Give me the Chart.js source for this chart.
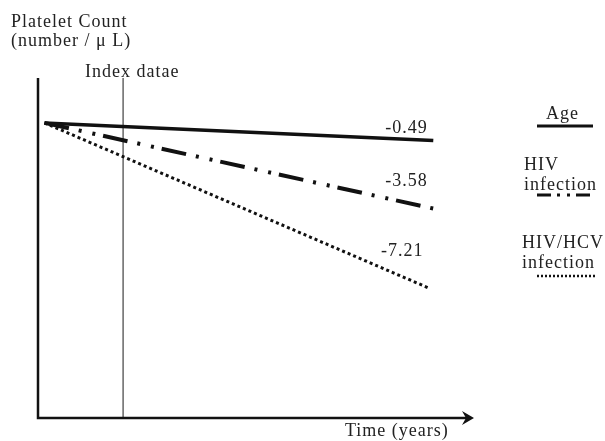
<!DOCTYPE html>
<html>
<head>
<meta charset="utf-8">
<script src="https://cdn.jsdelivr.net/npm/chart.js@4"></script>
<style>
  html, body { margin: 0; padding: 0; background: #fff; }
  #wrap { width: 605px; height: 441px; position: relative; }
</style>
</head>
<body>
<div id="wrap"><canvas id="lineChart" width="605" height="441"></canvas></div>
<script>
// data (arbitrary units, conceptual chart)
var seriesNames = ['Age', 'HIV infection', 'HIV/HCV infection'];
var slopeLabels = ['-0.49', '-3.58', '-7.21'];
var timeStart = 0.15;
var timeEnd = [9.15, 9.15, 9.05];
var countStart = 86.8;
var countEnd = [81.6, 61.6, 38.2];
var indexTime = 1.97;

var font = '"Liberation Serif", "DejaVu Serif", serif';

var datasets = seriesNames.map(function (name, i) {
    return {
        label: name,
        data: [{x: timeStart, y: countStart}, {x: timeEnd[i], y: countEnd[i]}],
        borderColor: '#111',
        pointRadius: 0,
        fill: false
    };
});
datasets[0].borderWidth = 3.5;
datasets[1].borderWidth = 4;
datasets[1].borderDash = [25, 10, 3, 11, 3, 8];
datasets[2].borderWidth = 3;
datasets[2].borderDash = [3, 3];

// index date line
datasets.push({
    label: 'Index datae',
    data: [{x: indexTime, y: 0}, {x: indexTime, y: 100}],
    borderColor: '#666',
    borderWidth: 1.5,
    pointRadius: 0
});

var extras = {
    id: 'extras',
    afterDatasetsDraw: function (chart) {
        var ctx = chart.ctx;
        var xs = chart.scales.x, ys = chart.scales.y;
        var a = chart.chartArea;
        ctx.save();
        // axes
        ctx.strokeStyle = '#111';
        ctx.lineWidth = 2.5;
        ctx.beginPath();
        ctx.moveTo(a.left, a.top);
        ctx.lineTo(a.left, a.bottom);
        ctx.lineTo(a.right, a.bottom);
        ctx.stroke();
        ctx.fillStyle = '#111';
        ctx.beginPath();
        ctx.moveTo(a.right + 4, a.bottom);
        ctx.lineTo(a.right - 8, a.bottom - 7);
        ctx.lineTo(a.right - 4, a.bottom);
        ctx.lineTo(a.right - 8, a.bottom + 7);
        ctx.closePath();
        ctx.fill();

        ctx.fillStyle = '#222';
        ctx.font = '18px ' + font;
        ctx.letterSpacing = '1px';
        ctx.textBaseline = 'alphabetic';
        ctx.textAlign = 'left';
        ctx.fillText('Platelet Count', 11, 27);
        ctx.fillText('(number / \u03BC L)', 11, 46);
        ctx.fillText('Index datae', 85, 77);
        ctx.fillText('Time (years)', 345, 436);

        // slope labels near line ends
        var labelY = [countEnd[0] + 2.2, countEnd[1] + 6.5, countEnd[2] + 9.5];
        slopeLabels.forEach(function (t, i) {
            ctx.textAlign = 'left';
            ctx.fillText(t, xs.getPixelForValue(timeEnd[i]) - 48, ys.getPixelForValue(labelY[i]));
        });

        // legend
        ctx.textAlign = 'left';
        ctx.fillText('Age', 546, 119);
        ctx.fillText('HIV', 524, 170);
        ctx.fillText('infection', 524, 190);
        ctx.fillText('HIV/HCV', 522, 248);
        ctx.fillText('infection', 522, 268);
        ctx.strokeStyle = '#111';
        ctx.lineWidth = 3;
        ctx.beginPath(); ctx.moveTo(537, 126); ctx.lineTo(593, 126); ctx.stroke();
        ctx.setLineDash([14, 6, 3, 7, 3, 6]);
        ctx.beginPath(); ctx.moveTo(537, 195); ctx.lineTo(595, 195); ctx.stroke();
        ctx.setLineDash([2, 2]);
        ctx.lineWidth = 2.5;
        ctx.beginPath(); ctx.moveTo(537, 276); ctx.lineTo(596, 276); ctx.stroke();
        ctx.restore();
    }
};

var Linectx = document.getElementById('lineChart').getContext('2d');
var myChart1 = new Chart(Linectx, {
    type: 'line',
    data: { datasets: datasets },
    options: {
        responsive: false,
        animation: false,
        layout: { padding: { left: 38, right: 135, top: 78, bottom: 23 } },
        plugins: { legend: { display: false }, tooltip: { enabled: false } },
        scales: {
            x: { type: 'linear', min: 0, max: 10, display: false },
            y: { type: 'linear', min: 0, max: 100, display: false }
        }
    },
    plugins: [extras]
});
</script>
</body>
</html>
